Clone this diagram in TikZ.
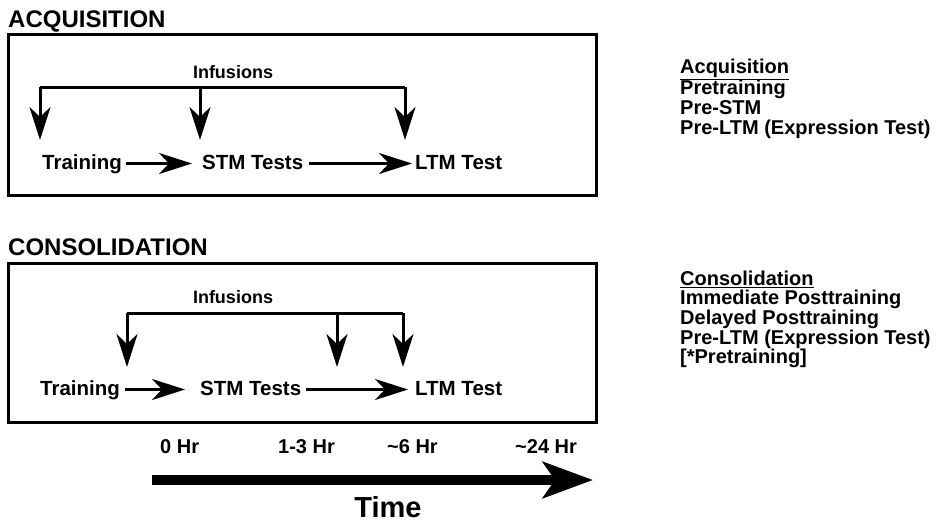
\documentclass[tikz,border=0pt]{standalone}
\usepackage{fontspec}
\setmainfont{Liberation Sans}
\usetikzlibrary{arrows.meta}
\tikzstyle{every node}=[inner sep=0pt]
\tikzstyle{heading}=[anchor=base west, font=\bfseries\fontsize{24}{28}\selectfont]
\tikzstyle{stage}=[anchor=base west, text height=15pt, text depth=4pt, font=\bfseries\fontsize{20.5}{24}\selectfont]
\tikzstyle{infusion}=[anchor=base, font=\bfseries\fontsize{18}{22}\selectfont]
\tikzstyle{hour}=[anchor=base west, font=\bfseries\fontsize{20}{24}\selectfont]
\tikzstyle{sidelist}=[anchor=north west, align=left, font=\bfseries\fontsize{20}{19.7}\selectfont]
\tikzstyle{frame}=[line width=3pt]
\tikzstyle{wire}=[line width=3pt]
\tikzstyle{flow}=[line width=3pt, -{Stealth[length=33pt,width=21pt,inset=10pt]}]
\tikzstyle{timeline}=[line width=10pt, -{Stealth[length=50pt,width=36pt,inset=12pt]}]

\begin{document}
\begin{tikzpicture}[x=1pt, y=-1pt]
    \useasboundingbox (0,0) rectangle (944,527);
% Acquisition
    \node[heading] (acqhead) at (8,28) {ACQUISITION};
    \draw[frame] (8,35) rectangle (596,195);
    \node[infusion] (acqinf) at (233,78) {Infusions};
    \node[stage] (acqtrain) at (42,169) {Training};
    \node[stage] (acqstm) at (202,169) {STM Tests};
    \node[stage] (acqltm) at (415,169) {LTM Test};
    \coordinate (acqa) at (40,87);
    \coordinate (acqb) at (200,87);
    \coordinate (acqc) at (405,87);
    \coordinate (acqta) at (40,140);
    \coordinate (acqtb) at (200,140);
    \coordinate (acqtc) at (405,140);
    \draw[wire] (acqa) -- (acqc);
    \draw[flow] (acqa) -- (acqta);
    \draw[flow] (acqb) -- (acqtb);
    \draw[flow] (acqc) -- (acqtc);
    \draw[flow, shorten <=4pt, shorten >=10pt] (acqtrain) -- (acqstm);
    \draw[flow, shorten <=6pt, shorten >=3pt] (acqstm) -- (acqltm);
% Consolidation
    \node[heading] (conhead) at (8,255) {CONSOLIDATION};
    \draw[frame] (8,263) rectangle (596,422);
    \node[infusion] (coninf) at (233,303) {Infusions};
    \node[stage] (contrain) at (40,395) {Training};
    \node[stage] (constm) at (200,395) {STM Tests};
    \node[stage] (conltm) at (415,395) {LTM Test};
    \coordinate (cona) at (127,313);
    \coordinate (conb) at (337,313);
    \coordinate (conc) at (403,313);
    \coordinate (conta) at (127,367);
    \coordinate (contb) at (337,367);
    \coordinate (contc) at (403,367);
    \draw[wire] (cona) -- (conc);
    \draw[flow] (cona) -- (conta);
    \draw[flow] (conb) -- (contb);
    \draw[flow] (conc) -- (contc);
    \draw[flow, shorten <=5pt, shorten >=15pt] (contrain) -- (constm);
    \draw[flow, shorten <=5pt, shorten >=7pt] (constm) -- (conltm);
% Side lists
    \node[sidelist] (acqlist) at (680,58.5) {\underline{Acquisition}\\Pretraining\\Pre-STM\\Pre-LTM (Expression Test)};
    \node[sidelist] (conlist) at (680,270.5) {\underline{Consolidation}\\Immediate Posttraining\\Delayed Posttraining\\Pre-LTM (Expression Test)\\{[*Pretraining]}};
% Time axis
    \node[hour] (h0) at (160,453) {0 Hr};
    \node[hour] (h1) at (278,453) {1-3 Hr};
    \node[hour] (h6) at (387,453) {\textasciitilde6 Hr};
    \node[hour] (h24) at (515,453) {\textasciitilde24 Hr};
    \coordinate (tstart) at (152,480);
    \coordinate (tend) at (593,480);
    \draw[timeline] (tstart) -- (tend);
    \node[anchor=base, font=\bfseries\fontsize{29}{34}\selectfont] (timelabel) at (388,517) {Time};
\end{tikzpicture}
\end{document}
